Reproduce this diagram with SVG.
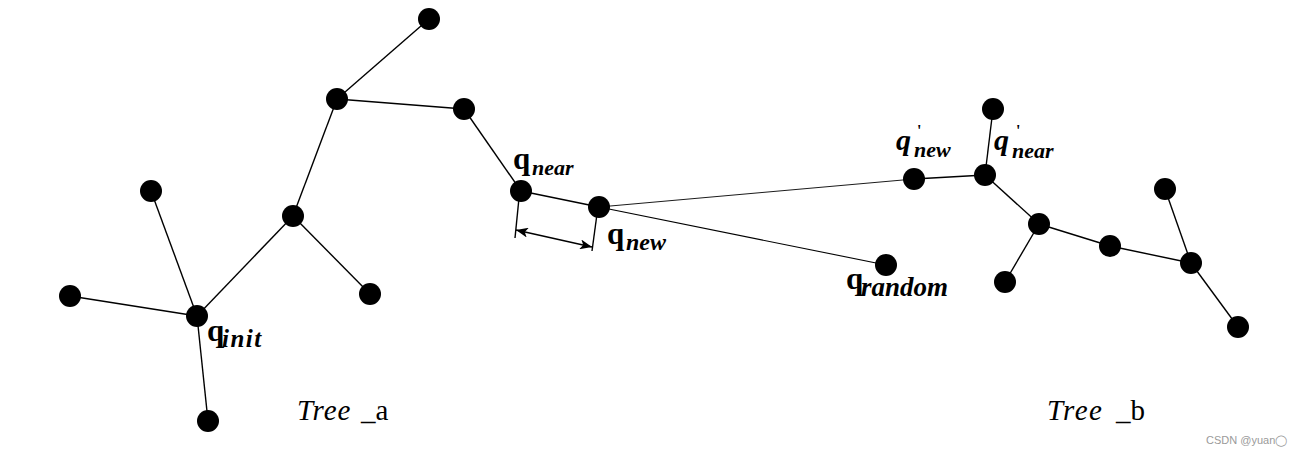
<svg xmlns="http://www.w3.org/2000/svg" width="1310" height="456" viewBox="0 0 1310 456">
<style>
.e{stroke:#000;stroke-width:1.4;fill:none}
.n{fill:#000}
.q{font-family:"Liberation Serif",serif;font-weight:bold;font-size:31px;fill:#000}
.s{font-family:"Liberation Serif",serif;font-weight:bold;font-style:italic;font-size:22px;fill:#000}
.qi{font-family:"Liberation Serif",serif;font-weight:bold;font-style:italic;font-size:30px;fill:#000}
.p{font-family:"Liberation Serif",serif;font-weight:bold;font-size:16px;fill:#000}
.t{font-family:"Liberation Serif",serif;font-size:29px;fill:#000}
.w{font-family:"Liberation Sans",Arial,sans-serif;font-size:11px;fill:#9a9a9a}
</style>
<defs>
<marker id="ah" viewBox="0 0 12 10" refX="12" refY="5" markerWidth="12" markerHeight="10" orient="auto-start-reverse" markerUnits="userSpaceOnUse">
<path d="M0,0 L12,5 L0,10 L3,5 z" fill="#000"/>
</marker>
</defs>
<rect width="1310" height="456" fill="#fff"/>
<g id="connectors">
<line class="e" x1="429" y1="19" x2="337" y2="99"/>
<line class="e" x1="337" y1="99" x2="464" y2="109"/>
<line class="e" x1="464" y1="109" x2="521" y2="191"/>
<line class="e" x1="521" y1="191" x2="599" y2="207"/>
<line class="e" x1="599" y1="207" x2="886" y2="265" style="stroke-width:1.1"/>
<line class="e" x1="599" y1="207" x2="914" y2="179" style="stroke-width:0.9"/>
<line class="e" x1="337" y1="99" x2="293" y2="216"/>
<line class="e" x1="293" y1="216" x2="197" y2="316"/>
<line class="e" x1="293" y1="216" x2="370" y2="294"/>
<line class="e" x1="151" y1="191" x2="197" y2="316"/>
<line class="e" x1="70" y1="296" x2="197" y2="316"/>
<line class="e" x1="197" y1="316" x2="208" y2="421"/>
<line class="e" x1="914" y1="179" x2="985" y2="175"/>
<line class="e" x1="985" y1="175" x2="993" y2="109"/>
<line class="e" x1="985" y1="175" x2="1039" y2="224"/>
<line class="e" x1="1039" y1="224" x2="1005" y2="282"/>
<line class="e" x1="1039" y1="224" x2="1110" y2="246"/>
<line class="e" x1="1110" y1="246" x2="1191" y2="263"/>
<line class="e" x1="1165" y1="189" x2="1191" y2="263"/>
<line class="e" x1="1191" y1="263" x2="1238" y2="327"/>
<line class="e" x1="519" y1="198" x2="515" y2="238"/>
<line class="e" x1="597" y1="214" x2="592" y2="251"/>
<line class="e" x1="516" y1="230" x2="592" y2="247" marker-start="url(#ah)" marker-end="url(#ah)"/>
</g>
<g id="node-1"><circle class="n" cx="429" cy="19" r="11"/></g>
<g id="node-2"><circle class="n" cx="337" cy="99" r="11"/></g>
<g id="node-3"><circle class="n" cx="464" cy="109" r="11"/></g>
<g id="q-near"><circle class="n" cx="521" cy="191" r="11"/><text class="q" x="513" y="169">q</text><text class="s" x="532" y="175">near</text></g>
<g id="q-new"><circle class="n" cx="599" cy="207" r="11"/><text class="q" x="607" y="244">q</text><text class="s" x="626" y="250" style="font-size:24px">new</text></g>
<g id="q-random"><circle class="n" cx="886" cy="265" r="11"/><text class="q" x="846" y="289">q</text><text class="s" x="861" y="296" style="font-size:27px">random</text></g>
<g id="node-4"><circle class="n" cx="293" cy="216" r="11"/></g>
<g id="node-5"><circle class="n" cx="151" cy="191" r="11"/></g>
<g id="node-6"><circle class="n" cx="370" cy="294" r="11"/></g>
<g id="node-7"><circle class="n" cx="70" cy="296" r="11"/></g>
<g id="q-init"><circle class="n" cx="197" cy="316" r="11"/><text class="q" x="207" y="341">q</text><text class="s" x="222" y="347" style="font-size:25px" letter-spacing="1.5">init</text></g>
<g id="node-8"><circle class="n" cx="208" cy="421" r="11"/></g>
<g id="q-new-b"><circle class="n" cx="914" cy="179" r="11"/><text class="qi" x="896" y="150">q</text><text class="p" x="917" y="136">'</text><text class="s" x="914" y="157">new</text></g>
<g id="q-near-b"><circle class="n" cx="985" cy="175" r="11"/><text class="qi" x="994" y="150">q</text><text class="p" x="1016" y="136">'</text><text class="s" x="1012" y="158">near</text></g>
<g id="node-9"><circle class="n" cx="993" cy="109" r="11"/></g>
<g id="node-10"><circle class="n" cx="1039" cy="224" r="11"/></g>
<g id="node-11"><circle class="n" cx="1005" cy="282" r="11"/></g>
<g id="node-12"><circle class="n" cx="1110" cy="246" r="11"/></g>
<g id="node-13"><circle class="n" cx="1165" cy="189" r="11"/></g>
<g id="node-14"><circle class="n" cx="1191" cy="263" r="11"/></g>
<g id="node-15"><circle class="n" cx="1238" cy="327" r="11"/></g>
<text class="t" x="297" y="420"><tspan font-style="italic" letter-spacing="1">Tree</tspan><tspan x="361">_a</tspan></text>
<text class="t" x="1047" y="420"><tspan font-style="italic" letter-spacing="1.5">Tree</tspan><tspan x="1116">_b</tspan></text>
<text class="w" x="1206" y="444">CSDN @yuan◯</text>
</svg>
